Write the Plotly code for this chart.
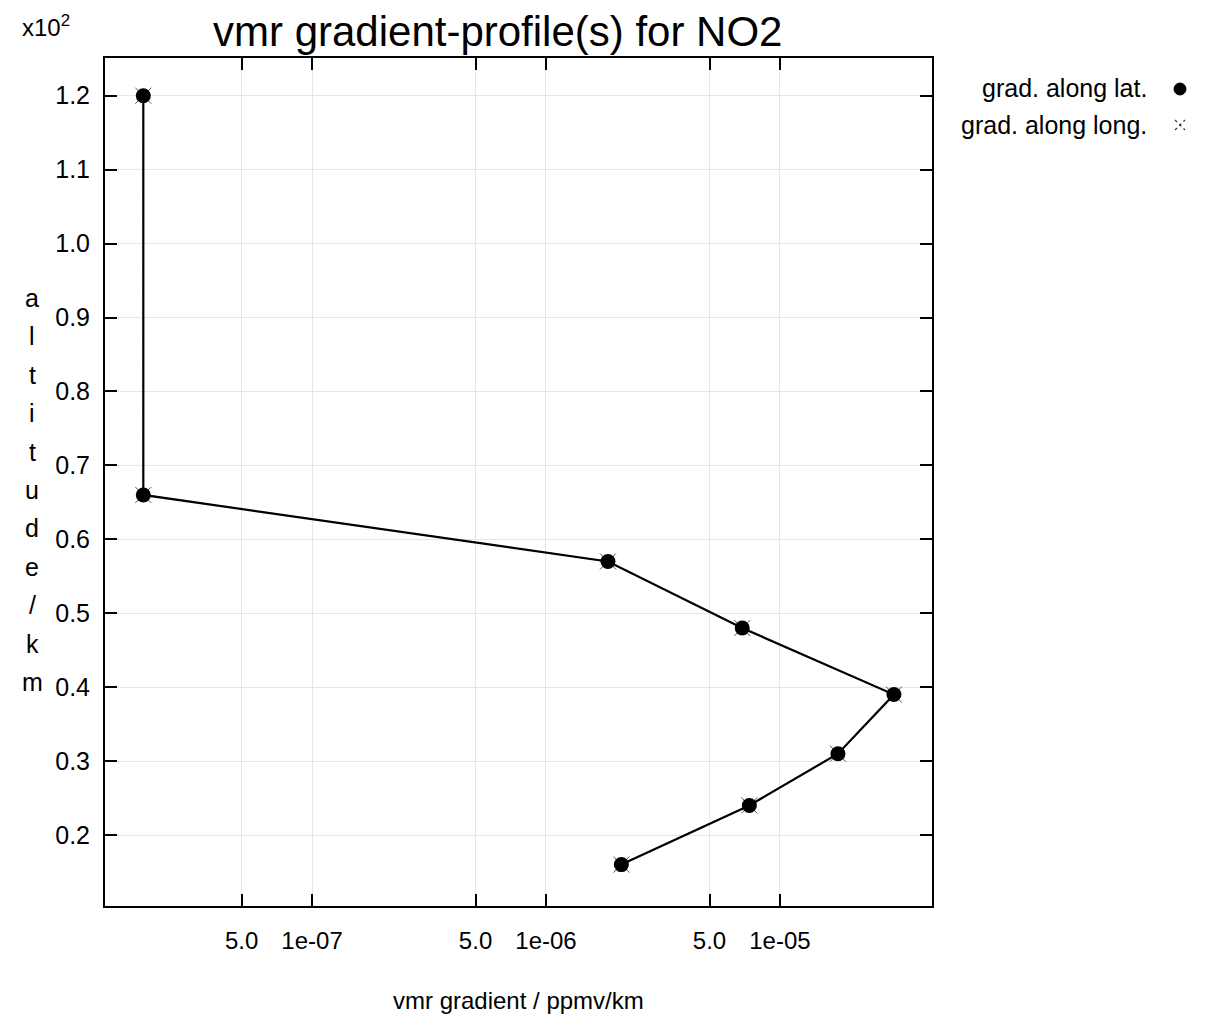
import plotly.graph_objects as go

# ---- data ----
altitude_km = [16, 24, 31, 39, 48, 57, 66, 120]
grad_lat = [2.1e-6, 7.4e-6, 1.77e-5, 3.07e-5, 6.9e-6, 1.84e-6, 1.9e-8, 1.9e-8]
grad_long = [2.1e-6, 7.4e-6, 1.77e-5, 3.07e-5, 6.9e-6, 1.84e-6, 1.9e-8, 1.9e-8]
x_tickvals = [5e-8, 1e-7, 5e-7, 1e-6, 5e-6, 1e-5]
x_ticktext = ["5.0", "1e-07", "5.0", "1e-06", "5.0", "1e-05"]
y_tickvals = [20, 30, 40, 50, 60, 70, 80, 90, 100, 110, 120]
y_ticktext = ["0.2", "0.3", "0.4", "0.5", "0.6", "0.7", "0.8", "0.9", "1.0", "1.1", "1.2"]
series_names = ["grad. along lat.", "grad. along long."]
title_text = "vmr gradient-profile(s) for NO2"
x_title = "vmr gradient / ppmv/km"
y_title_letters = list("altitude/km")

W, H = 1226, 1017
OFF = 8  # page body margin
# target plot box in screen pixels
SX0, SX1, SY0, SY1 = 105, 932, 58, 906
L, T = SX0 - OFF, SY0 - OFF
pw, ph = SX1 - SX0, SY1 - SY0
R, B = W - L - pw, H - T - ph

def px(xs):
    return (xs - SX0) / pw

def py(ys):
    return (SY1 - ys) / ph

font = "Liberation Sans, Arial, sans-serif"

fig = go.Figure()
fig.add_trace(go.Scatter(
    x=grad_long, y=altitude_km, mode="lines+markers", name=series_names[1],
    line=dict(color="#777777", width=1.2, dash="dot"),
    marker=dict(symbol="x-thin", size=16, line=dict(color="#555555", width=1)),
    showlegend=False))
fig.add_trace(go.Scatter(
    x=grad_lat, y=altitude_km, mode="lines+markers", name=series_names[0],
    line=dict(color="black", width=2.2),
    marker=dict(symbol="circle", size=15, color="black"),
    showlegend=False))

axis_common = dict(showline=True, linecolor="black", linewidth=2, mirror="ticks",
                   ticks="inside", ticklen=12, tickwidth=2, tickcolor="black",
                   showgrid=True, gridcolor="#e6e6e6", gridwidth=1, zeroline=False)

fig.update_xaxes(type="log", range=[-7.885, -4.35], tickvals=x_tickvals, ticktext=x_ticktext,
                 tickfont=dict(family=font, size=24, color="black"),
                 ticklabelstandoff=12, **axis_common)
fig.update_yaxes(range=[10.4, 125.1], tickvals=y_tickvals, ticktext=y_ticktext,
                 tickfont=dict(family=font, size=25, color="black"),
                 ticklabelstandoff=8, **axis_common)

ann = []
ann.append(dict(text=title_text, x=px(497), y=py(32), xref="paper", yref="paper",
                xanchor="center", yanchor="middle",
                showarrow=False, font=dict(family=font, size=42, color="black")))
ann.append(dict(text=x_title, x=px(518), y=py(1000), xref="paper", yref="paper",
                xanchor="center", yanchor="middle",
                showarrow=False, font=dict(family=font, size=24, color="black")))
ann.append(dict(text="x10<sup>2</sup>", x=px(46), y=py(26), xref="paper", yref="paper",
                xanchor="center", yanchor="middle",
                showarrow=False, font=dict(family=font, size=24, color="black")))
for i, ch in enumerate(y_title_letters):
    ann.append(dict(text=ch, x=px(32), y=py(298 + i * 38.4), xref="paper", yref="paper",
                    xanchor="center", yanchor="middle",
                    showarrow=False, font=dict(family=font, size=25, color="black")))
# legend texts
for i, nm in enumerate(series_names):
    ann.append(dict(text=nm, x=px(1149), y=py(88 + i * 37), xref="paper", yref="paper",
                    xanchor="right", yanchor="middle", showarrow=False,
                    font=dict(family=font, size=25, color="black")))

shapes = [
    dict(type="circle", xref="paper", yref="paper", xsizemode="pixel", ysizemode="pixel",
         xanchor=px(1180), yanchor=py(89), x0=-6, x1=6, y0=-6, y1=6,
         fillcolor="black", line=dict(color="black", width=1)),
    dict(type="line", xref="paper", yref="paper", xsizemode="pixel", ysizemode="pixel",
         xanchor=px(1180), yanchor=py(125), x0=-5, x1=5, y0=-5, y1=5,
         line=dict(color="#333333", width=1.2, dash="dot")),
    dict(type="line", xref="paper", yref="paper", xsizemode="pixel", ysizemode="pixel",
         xanchor=px(1180), yanchor=py(125), x0=-5, x1=5, y0=5, y1=-5,
         line=dict(color="#333333", width=1.2, dash="dot")),
]

fig.update_layout(width=W, height=H, margin=dict(l=L, r=R, t=T, b=B),
                  paper_bgcolor="white", plot_bgcolor="white",
                  annotations=ann, shapes=shapes, showlegend=False)

fig.write_html("out.html")
